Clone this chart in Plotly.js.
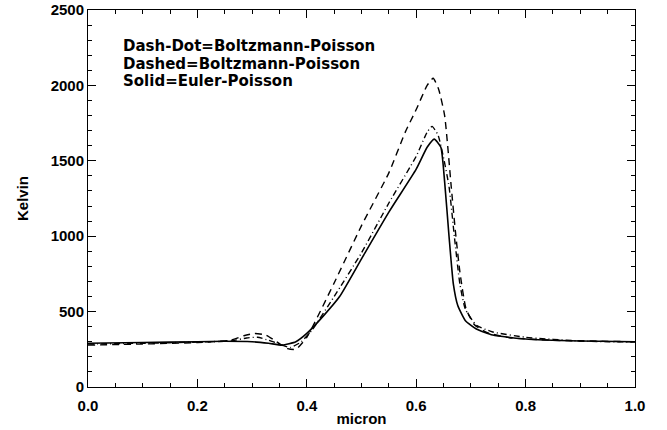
<!DOCTYPE html>
<html>
<head>
<meta charset="utf-8">
<script src="https://cdn.plot.ly/plotly-3.0.1.min.js"></script>
<style>html,body{margin:0;padding:0;background:#fff;}#chart{width:667px;height:430px;}</style>
</head>
<body>
<div id="chart"></div>
<script>
// Solid = Euler-Poisson
var solidX = [0, 0.1, 0.2, 0.25, 0.3, 0.33, 0.355, 0.38, 0.4, 0.43, 0.46, 0.5, 0.55, 0.6, 0.62, 0.633, 0.645, 0.652, 0.66, 0.668, 0.676, 0.69, 0.71, 0.74, 0.8, 0.9, 1.0];
var solidY = [290, 295, 300, 303, 300, 290, 278, 300, 355, 470, 600, 850, 1160, 1445, 1590, 1644, 1590, 1360, 1000, 680, 540, 440, 385, 345, 318, 305, 300];
// Dash-Dot = Boltzmann-Poisson
var dashDotX = [0, 0.1, 0.2, 0.26, 0.29, 0.31, 0.33, 0.35, 0.37, 0.39, 0.41, 0.45, 0.5, 0.55, 0.6, 0.62, 0.629, 0.64, 0.65, 0.66, 0.67, 0.68, 0.69, 0.71, 0.74, 0.8, 0.9, 1.0];
var dashDotY = [285, 290, 298, 305, 325, 330, 310, 285, 262, 300, 380, 600, 890, 1220, 1530, 1690, 1728, 1670, 1520, 1330, 990, 680, 515, 410, 365, 330, 305, 298];
// Dashed = Boltzmann-Poisson
var dashedX = [0, 0.1, 0.2, 0.26, 0.285, 0.305, 0.325, 0.345, 0.365, 0.38, 0.4, 0.45, 0.5, 0.55, 0.58, 0.6, 0.62, 0.631, 0.641, 0.652, 0.664, 0.672, 0.68, 0.691, 0.706, 0.73, 0.77, 0.85, 1.0];
var dashedY = [278, 285, 295, 310, 340, 355, 345, 300, 255, 250, 330, 690, 1070, 1420, 1690, 1840, 2000, 2047, 1975, 1800, 1330, 1020, 760, 520, 415, 360, 327, 310, 300];

var xTicks = [0, 0.2, 0.4, 0.6, 0.8, 1.0];
var xTickText = ['0.0', '0.2', '0.4', '0.6', '0.8', '1.0'];
var yTicks = [0, 500, 1000, 1500, 2000, 2500];
var yTickText = ['0', '500', '1000', '1500', '2000', '2500'];
var legendLines = ['Dash-Dot=Boltzmann-Poisson', 'Dashed=Boltzmann-Poisson', 'Solid=Euler-Poisson'];

var lineBase = {color: '#000', width: 1.4, shape: 'spline', smoothing: 0.5};
var traces = [
  {x: solidX, y: solidY, mode: 'lines', line: Object.assign({}, lineBase, {dash: 'solid', width: 1.6})},
  {x: dashDotX, y: dashDotY, mode: 'lines', line: Object.assign({}, lineBase, {dash: '6px,3px,1px,3px'})},
  {x: dashedX, y: dashedY, mode: 'lines', line: Object.assign({}, lineBase, {dash: '7px,5px'})}
];

var font = {family: 'Liberation Sans, Arial, sans-serif', color: '#000'};
var annotations = legendLines.map(function(t, i) {
  return {text: '<b>' + t + '</b>', xref: 'paper', yref: 'paper', x: 0.061, y: 0.905 - i * 0.047,
          xanchor: 'left', yanchor: 'middle', showarrow: false,
          font: {family: 'DejaVu Sans, sans-serif', color: '#000', size: 15}};
});

var layout = {
  width: 667, height: 430,
  margin: {l: 88, r: 32, t: 10, b: 43},
  paper_bgcolor: '#fff', plot_bgcolor: '#fff',
  showlegend: false,
  font: font,
  xaxis: {
    range: [0, 1], tickvals: xTicks, ticktext: xTickText.map(function(s){return '<b>'+s+'</b>';}),
    ticks: 'inside', ticklen: 8, tickwidth: 1, tickcolor: '#000',
    minor: {dtick: 0.05, ticks: 'inside', ticklen: 4, tickcolor: '#000'},
    showline: true, linecolor: '#000', linewidth: 1, mirror: 'ticks',
    showgrid: false, zeroline: false, ticklabelstandoff: 5,
    tickfont: Object.assign({}, font, {size: 15}),
    title: {text: '<b>micron</b>', font: Object.assign({}, font, {size: 15}), standoff: 0}
  },
  yaxis: {
    range: [0, 2500], tickvals: yTicks, ticktext: yTickText.map(function(s){return '<b>'+s+'</b>';}),
    ticks: 'inside', ticklen: 8, tickwidth: 1, tickcolor: '#000',
    minor: {dtick: 100, ticks: 'inside', ticklen: 4, tickcolor: '#000'},
    showline: true, linecolor: '#000', linewidth: 1, mirror: 'ticks',
    showgrid: false, zeroline: false,
    tickfont: Object.assign({}, font, {size: 15}),
    title: {text: '<b>Kelvin</b>', font: Object.assign({}, font, {size: 15}), standoff: 18}
  },
  annotations: annotations
};

Plotly.newPlot('chart', traces, layout, {staticPlot: true, displayModeBar: false});
</script>
</body>
</html>
